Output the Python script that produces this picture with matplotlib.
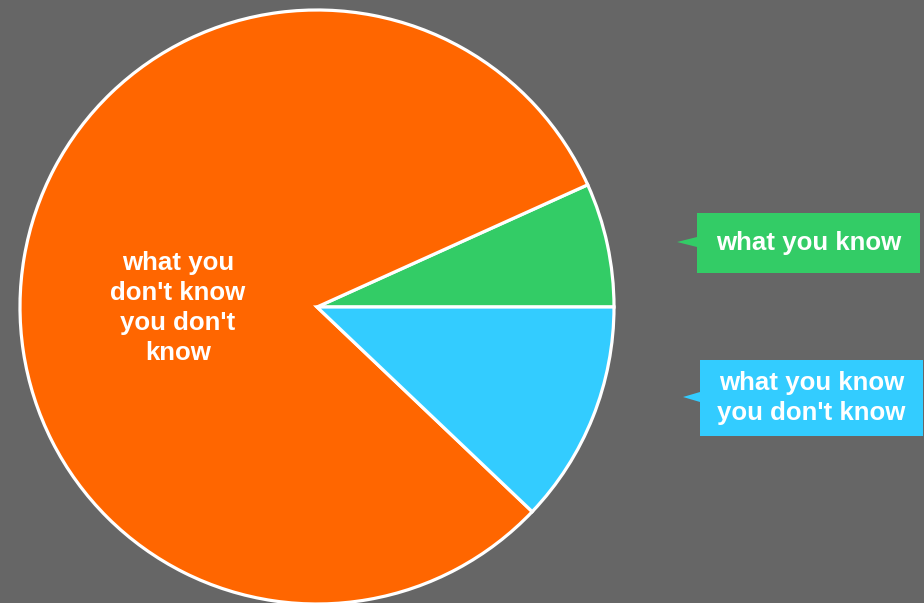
import matplotlib
matplotlib.use("Agg")
import matplotlib.pyplot as plt
from matplotlib.patches import Polygon

# Data (shares of the pie)
categories = ["what you know", "what you don't know you don't know", "what you know you don't know"]
values = [6.75, 81.15, 12.1]
colors = ["#33CC66", "#FF6600", "#33CCFF"]
label_texts = ["what you know", "what you\ndon't know\nyou don't\nknow", "what you know\nyou don't know"]

BG = "#666666"
W, H = 924, 603

fig = plt.figure(figsize=(W / 100, H / 100), dpi=100, facecolor=BG)
ax = fig.add_axes([0, 0, 1, 1])
ax.set_facecolor(BG)
ax.set_xlim(0, W)
ax.set_ylim(0, H)

cx, cy, r = 317, H - 307, 297
ax.pie(values, colors=colors, startangle=0, counterclock=True,
       center=(cx, cy), radius=r, frame=True,
       wedgeprops=dict(edgecolor="white", linewidth=2.3))
ax.set_xlim(0, W)
ax.set_ylim(0, H)
ax.axis("off")

font = dict(family=["Liberation Sans", "DejaVu Sans"], weight="bold",
            size=18.6, color="white")

# label inside the orange wedge
ax.text(178, H - 308, label_texts[1], ha="center", va="center",
        linespacing=1.3, **font)

# callout boxes
def callout(x0, x1, y0, y1, tipx, tipy, color, text):
    yt0, yt1 = H - y0, H - y1
    ty = H - tipy
    pts = [(x0, yt0), (x1, yt0), (x1, yt1), (x0, yt1),
           (x0, ty - 5), (tipx, ty), (x0, ty + 5)]
    ax.add_patch(Polygon(pts, closed=True, facecolor=color, edgecolor="none"))
    ax.text((x0 + x1) / 2, (yt0 + yt1) / 2, text, ha="center", va="center",
            linespacing=1.3, **font)

callout(697, 920, 213, 273, 677, 242, colors[0], label_texts[0])
callout(700, 923, 360, 436, 683, 397, colors[2], label_texts[2])

fig.savefig("out.png", dpi=100, facecolor=BG)
